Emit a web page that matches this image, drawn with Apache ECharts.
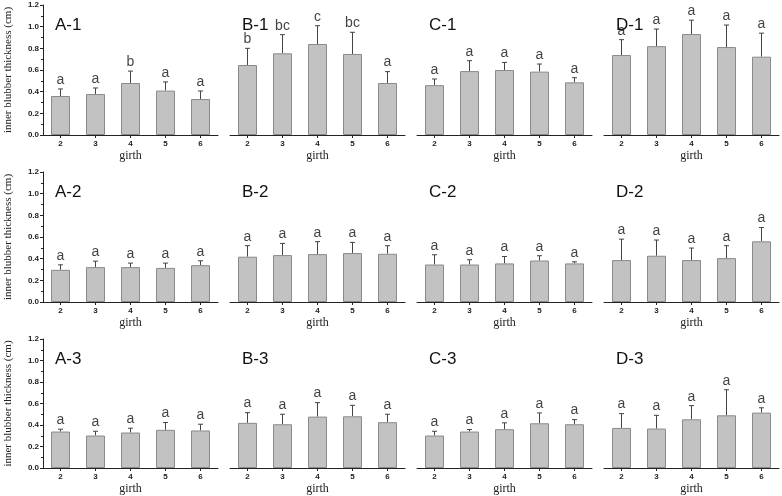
<!DOCTYPE html>
<html>
<head>
<meta charset="utf-8">
<script src="https://cdn.jsdelivr.net/npm/echarts@6/dist/echarts.min.js"></script>
<style>html,body{margin:0;padding:0;background:#fff;}#c{width:782px;height:496px;}</style>
</head>
<body>
<div id="c"></div>
<script>
const categories = ['2', '3', '4', '5', '6'];
const yTicks = [0, 0.2, 0.4, 0.6, 0.8, 1.0, 1.2];
const panelNames = ['A-1', 'B-1', 'C-1', 'D-1', 'A-2', 'B-2', 'C-2', 'D-2', 'A-3', 'B-3', 'C-3', 'D-3'];

const meanA1 = [0.360, 0.378, 0.480, 0.410, 0.332];
const sdA1   = [0.065, 0.056, 0.110, 0.080, 0.074];
const letA1  = ['a', 'a', 'b', 'a', 'a'];
const meanB1 = [0.646, 0.754, 0.840, 0.748, 0.480];
const sdB1   = [0.154, 0.172, 0.169, 0.200, 0.105];
const letB1  = ['b', 'bc', 'c', 'bc', 'a'];
const meanC1 = [0.460, 0.590, 0.600, 0.585, 0.486];
const sdC1   = [0.057, 0.096, 0.070, 0.070, 0.043];
const letC1  = ['a', 'a', 'a', 'a', 'a'];
const meanD1 = [0.738, 0.820, 0.932, 0.812, 0.723];
const sdD1   = [0.142, 0.158, 0.128, 0.203, 0.217];
const letD1  = ['a', 'a', 'a', 'a', 'a'];

const meanA2 = [0.297, 0.322, 0.322, 0.315, 0.340];
const sdA2   = [0.046, 0.055, 0.037, 0.044, 0.040];
const letA2  = ['a', 'a', 'a', 'a', 'a'];
const meanB2 = [0.418, 0.433, 0.442, 0.452, 0.445];
const sdB2   = [0.102, 0.108, 0.115, 0.098, 0.075];
const letB2  = ['a', 'a', 'a', 'a', 'a'];
const meanC2 = [0.346, 0.346, 0.356, 0.383, 0.356];
const sdC2   = [0.090, 0.044, 0.064, 0.044, 0.015];
const letC2  = ['a', 'a', 'a', 'a', 'a'];
const meanD2 = [0.387, 0.427, 0.387, 0.405, 0.560];
const sdD2   = [0.193, 0.145, 0.111, 0.115, 0.127];
const letD2  = ['a', 'a', 'a', 'a', 'a'];

const meanA3 = [0.339, 0.302, 0.330, 0.355, 0.349];
const sdA3   = [0.022, 0.040, 0.040, 0.068, 0.058];
const letA3  = ['a', 'a', 'a', 'a', 'a'];
const meanB3 = [0.420, 0.407, 0.478, 0.481, 0.426];
const sdB3   = [0.095, 0.093, 0.130, 0.102, 0.074];
const letB3  = ['a', 'a', 'a', 'a', 'a'];
const meanC3 = [0.302, 0.339, 0.361, 0.416, 0.407];
const sdC3   = [0.040, 0.019, 0.059, 0.096, 0.043];
const letC3  = ['a', 'a', 'a', 'a', 'a'];
const meanD3 = [0.373, 0.367, 0.453, 0.490, 0.515];
const sdD3   = [0.133, 0.123, 0.127, 0.238, 0.045];
const letD3  = ['a', 'a', 'a', 'a', 'a'];

const means = [meanA1, meanB1, meanC1, meanD1, meanA2, meanB2, meanC2, meanD2, meanA3, meanB3, meanC3, meanD3];
const sds = [sdA1, sdB1, sdC1, sdD1, sdA2, sdB2, sdC2, sdD2, sdA3, sdB3, sdC3, sdD3];
const lets = [letA1, letB1, letC1, letD1, letA2, letB2, letC2, letD2, letA3, letB3, letC3, letD3];

const lefts = [43, 230, 417, 604];
const tops = [5, 172, 339];
const W = 175, H = 130;

const grids = [], xAxes = [], yAxes = [], series = [], titles = [];
for (let i = 0; i < 12; i++) {
  const r = Math.floor(i / 4), c = i % 4;
  grids.push({ left: lefts[c], top: tops[r], width: W, height: H });
  titles.push({
    text: panelNames[i], left: lefts[c] + 7, top: tops[r] + 7,
    textStyle: { fontFamily: 'Liberation Sans', fontSize: 17, fontWeight: 'normal', color: '#111' }
  });
  xAxes.push({
    type: 'category', gridIndex: i, data: categories,
    name: 'girth', nameLocation: 'middle', nameGap: 15,
    nameTextStyle: { fontFamily: 'Liberation Serif', fontSize: 12, color: '#222' },
    axisLine: { lineStyle: { color: '#222', width: 1 } },
    axisTick: { show: true, alignWithLabel: true, length: 3, lineStyle: { color: '#222' } },
    axisLabel: { fontFamily: 'Liberation Sans', fontSize: 8, fontWeight: 'bold', color: '#222', margin: 5 }
  });
  const showY = c === 0;
  yAxes.push({
    type: 'value', gridIndex: i, min: yTicks[0], max: yTicks[yTicks.length - 1], interval: 0.2,
    show: showY,
    name: 'inner blubber thickness (cm)', nameLocation: 'middle', nameGap: 29,
    nameTextStyle: { fontFamily: 'Liberation Serif', fontSize: 11, color: '#222' },
    splitLine: { show: false },
    axisLine: { show: true, lineStyle: { color: '#222', width: 1 } },
    axisTick: { show: true, length: 3, lineStyle: { color: '#222' } },
    minorTick: { show: true, splitNumber: 2, length: 2, lineStyle: { color: '#222' } },
    axisLabel: { fontFamily: 'Liberation Sans', fontSize: 8, fontWeight: 'bold', color: '#222', margin: 4,
      formatter: v => v.toFixed(1) }
  });
  series.push({
    type: 'bar', xAxisIndex: i, yAxisIndex: i, data: means[i], barWidth: 19,
    itemStyle: { color: '#c2c2c2', borderColor: '#8a8a8a', borderWidth: 1 },
    silent: true, animation: false
  });
  const errData = means[i].map((m, k) => [k, m, m + sds[i][k]]);
  series.push({
    type: 'custom', xAxisIndex: i, yAxisIndex: i, data: errData, animation: false, silent: true,
    renderItem: function (params, api) {
      const x = api.value(0);
      const p0 = api.coord([x, api.value(1)]);
      const p1 = api.coord([x, api.value(2)]);
      return {
        type: 'group', children: [
          { type: 'line', shape: { x1: p0[0], y1: p0[1], x2: p1[0], y2: p1[1] }, style: { stroke: '#444', lineWidth: 1 } },
          { type: 'line', shape: { x1: p1[0] - 2.5, y1: p1[1], x2: p1[0] + 2.5, y2: p1[1] }, style: { stroke: '#444', lineWidth: 1 } }
        ]
      };
    }
  });
  series.push({
    type: 'scatter', xAxisIndex: i, yAxisIndex: i, symbolSize: 0, animation: false, silent: true,
    data: means[i].map((m, k) => ({ value: [k, m + sds[i][k]], label: { formatter: lets[i][k] } })),
    label: { show: true, position: 'top', distance: 2, fontFamily: 'Liberation Sans', fontSize: 14, color: '#111' }
  });
}

const chart = echarts.init(document.getElementById('c'));
chart.setOption({
  backgroundColor: '#fff', animation: false,
  title: titles, grid: grids, xAxis: xAxes, yAxis: yAxes, series: series
});
</script>
</body>
</html>
